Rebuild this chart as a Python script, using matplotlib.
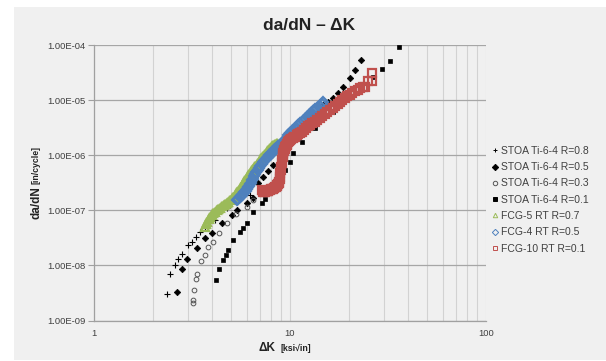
import matplotlib
matplotlib.use('Agg')
import matplotlib.pyplot as plt
from matplotlib.patches import Rectangle
from matplotlib.ticker import LogLocator, FuncFormatter, NullFormatter
import numpy as np

plt.rcParams['font.family'] = ['Liberation Sans', 'DejaVu Sans']

# STOA Ti-6-4 data
stoa08_dk = [2.37, 2.44, 2.59, 2.69, 2.80, 3.03, 3.15, 3.31, 3.47, 3.68, 4.14, 4.75, 6.25, 6.62, 9.3]
stoa08_rate = [3.0e-9, 7.0e-9, 1.02e-8, 1.3e-8, 1.62e-8, 2.36e-8, 2.71e-8, 3.34e-8, 4.12e-8, 4.95e-8,
               6.7e-8, 1.1e-7, 1.9e-7, 4.1e-7, 9.3e-7]

stoa05_dk = [2.64, 2.80, 2.99, 3.34, 3.68, 3.98, 4.48, 5.04, 5.35, 6.01, 6.50, 6.87, 7.17, 7.31, 7.75,
             8.22, 8.89, 9.43, 10.0, 10.8, 11.9, 13.1, 14.8, 15.7, 16.6, 17.6, 18.7, 20.2, 21.5, 22.9]
stoa05_rate = [3.3e-9, 8.5e-9, 1.3e-8, 2.06e-8, 3.1e-8, 3.9e-8, 5.8e-8, 8.3e-8, 1.02e-7, 1.35e-7,
               1.67e-7, 3.2e-7, 2.36e-7, 4.1e-7, 5.1e-7, 6.7e-7, 1.02e-6, 1.35e-6, 1.78e-6, 2.36e-6,
               3.6e-6, 5.2e-6, 8.3e-6, 9.5e-6, 1.1e-5, 1.35e-5, 1.78e-5, 2.5e-5, 3.6e-5, 5.4e-5]

stoa03_dk = [3.21, 3.21, 3.25, 3.30, 3.37, 3.50, 3.68, 3.83, 4.06, 4.36, 4.75, 5.30, 6.01, 6.50]
stoa03_rate = [2.05e-9, 2.36e-9, 3.6e-9, 5.6e-9, 7.0e-9, 1.22e-8, 1.55e-8, 2.14e-8, 2.7e-8, 3.9e-8,
               5.8e-8, 8.6e-8, 1.17e-7, 1.55e-7]

stoa01_dk = [4.19, 4.34, 4.53, 4.71, 4.84, 5.14, 5.56, 5.78, 6.01, 6.50, 7.17, 7.45, 7.91, 8.28, 8.71,
             9.07, 9.43, 10.0, 10.4, 11.5, 13.4, 16.6, 26.6, 29.6, 32.4, 36.1]
stoa01_rate = [5.4e-9, 8.6e-9, 1.26e-8, 1.55e-8, 1.9e-8, 2.9e-8, 4.1e-8, 4.7e-8, 5.8e-8, 9.5e-8,
               1.35e-7, 1.6e-7, 2.06e-7, 2.36e-7, 2.9e-7, 3.6e-7, 5.4e-7, 7.7e-7, 1.1e-6, 1.78e-6,
               3.2e-6, 6.2e-6, 2.7e-5, 3.7e-5, 5.2e-5, 9.3e-5]

# FCG room temperature tests (dense records)
fcg5_dk = [3.68, 3.73, 3.78, 3.84, 3.91, 3.98, 4.05, 4.14, 4.23, 4.31, 4.40, 4.49, 4.58, 4.66, 4.75,
           4.85, 4.95, 5.05, 5.14, 5.22, 5.30, 5.38, 5.45, 5.56, 5.65, 5.75, 5.83, 5.90, 6.01, 6.1,
           6.2, 6.29, 6.38, 6.47, 6.55, 6.65, 6.76, 6.88, 7.0, 7.15, 7.3, 7.45, 7.61, 7.75, 7.9,
           8.05, 8.22, 8.4, 8.55]
fcg5_rate = [5.1e-8, 5.6e-8, 6.2e-8, 6.9e-8, 7.7e-8, 8.3e-8, 8.8e-8, 9.5e-8, 1.02e-7, 1.07e-7,
             1.12e-7, 1.18e-7, 1.25e-7, 1.3e-7, 1.35e-7, 1.43e-7, 1.52e-7, 1.62e-7, 1.72e-7, 1.85e-7,
             2.0e-7, 2.15e-7, 2.3e-7, 2.46e-7, 2.7e-7, 3.0e-7, 3.25e-7, 3.5e-7, 3.9e-7, 4.2e-7,
             4.6e-7, 5.0e-7, 5.4e-7, 5.7e-7, 6.0e-7, 6.3e-7, 6.7e-7, 7.3e-7, 8.0e-7, 8.8e-7,
             9.7e-7, 1.07e-6, 1.17e-6, 1.26e-6, 1.35e-6, 1.45e-6, 1.55e-6, 1.62e-6, 1.67e-6]

fcg4_dk = [5.37, 5.45, 5.53, 5.61, 5.69, 5.77, 5.85, 5.94, 6.03, 6.1, 6.17, 6.25, 6.32, 6.4, 6.48,
           6.55, 6.63, 6.73, 6.83, 6.93, 7.03, 7.16, 7.3, 7.45, 7.61, 7.73, 7.85, 7.96, 8.07, 8.18,
           8.3, 8.42, 8.55, 8.72, 8.9, 9.07, 9.24, 9.42, 9.6, 9.8, 10.0, 10.2, 10.4, 10.6, 10.8,
           11.05, 11.3, 11.6, 11.9, 12.2, 12.5, 12.8, 13.1, 13.45, 13.8, 14.15, 14.5, 14.8]
fcg4_rate = [1.55e-7, 1.63e-7, 1.72e-7, 1.8e-7, 1.9e-7, 2.02e-7, 2.15e-7, 2.3e-7, 2.46e-7, 2.62e-7,
             2.8e-7, 3.0e-7, 3.2e-7, 3.5e-7, 3.8e-7, 4.2e-7, 4.6e-7, 5.0e-7, 5.4e-7, 5.85e-7,
             6.3e-7, 6.9e-7, 7.5e-7, 8.2e-7, 8.9e-7, 9.5e-7, 1.0e-6, 1.06e-6, 1.12e-6, 1.17e-6,
             1.23e-6, 1.29e-6, 1.35e-6, 1.45e-6, 1.55e-6, 1.66e-6, 1.78e-6, 1.93e-6, 2.1e-6, 2.35e-6,
             2.6e-6, 2.75e-6, 2.9e-6, 3.05e-6, 3.2e-6, 3.5e-6, 3.8e-6, 4.2e-6, 4.6e-6, 5.0e-6,
             5.4e-6, 5.9e-6, 6.4e-6, 6.9e-6, 7.4e-6, 7.9e-6, 8.5e-6, 9.3e-6]

fcg10_dk = [7.17, 7.24, 7.3, 7.38, 7.45, 7.52, 7.6, 7.68, 7.75, 7.88, 8.0, 8.11, 8.22, 8.31, 8.4,
            8.48, 8.55, 8.63, 8.7, 8.76, 8.82, 8.86, 8.89, 8.93, 8.97, 9.02, 9.07, 9.12, 9.18, 9.22,
            9.26, 9.3, 9.35, 9.41, 9.48, 9.55, 9.62, 9.7, 9.8, 9.9, 10.0, 10.15, 10.3, 10.45, 10.6,
            10.8, 11.0, 11.25, 11.5, 11.75, 12.0, 12.3, 12.6, 13.0, 13.4, 13.8, 14.2, 14.6, 15.0,
            15.5, 16.0, 16.5, 17.0, 17.5, 18.0, 18.5, 19.0, 19.6, 20.2, 20.8, 21.4, 22.1, 22.8,
            23.5, 24.1, 25.1, 26.1, 26.1]
fcg10_rate = [2.36e-7, 2.28e-7, 2.2e-7, 2.2e-7, 2.2e-7, 2.22e-7, 2.25e-7, 2.27e-7, 2.3e-7, 2.35e-7,
              2.4e-7, 2.45e-7, 2.5e-7, 2.57e-7, 2.65e-7, 2.72e-7, 2.8e-7, 2.9e-7, 3.0e-7, 3.15e-7,
              3.3e-7, 3.7e-7, 4.1e-7, 4.7e-7, 5.4e-7, 6.2e-7, 7.2e-7, 8.2e-7, 9.5e-7, 1.02e-6,
              1.1e-6, 1.18e-6, 1.26e-6, 1.33e-6, 1.4e-6, 1.47e-6, 1.55e-6, 1.63e-6, 1.72e-6, 1.81e-6,
              1.91e-6, 1.98e-6, 2.05e-6, 2.12e-6, 2.2e-6, 2.32e-6, 2.45e-6, 2.57e-6, 2.7e-6, 2.9e-6,
              3.1e-6, 3.35e-6, 3.6e-6, 3.85e-6, 4.1e-6, 4.4e-6, 4.7e-6, 5.1e-6, 5.6e-6, 6.1e-6,
              6.7e-6, 7.3e-6, 8.0e-6, 8.7e-6, 9.5e-6, 1.02e-5, 1.1e-5, 1.18e-5, 1.26e-5, 1.35e-5,
              1.45e-5, 1.56e-5, 1.67e-5, 1.72e-5, 1.78e-5, 2.2e-5, 2.2e-5, 3.2e-5]

bg = '#f0f0f0'
txt = '#404040'

fig = plt.figure(figsize=(6.06, 3.61), dpi=100)
fig.patch.set_facecolor('white')
fig.patches.append(Rectangle((14 / 606, 0.003), 1, 0.978, transform=fig.transFigure,
                             facecolor=bg, edgecolor='none', zorder=-10))

ax = fig.add_axes([94 / 606, 40.5 / 361, 392 / 606, 275.2 / 361])
ax.set_facecolor(bg)
ax.set_xscale('log')
ax.set_yscale('log')
ax.set_xlim(1, 100)
ax.set_ylim(1e-9, 1e-4)

ax.plot(stoa08_dk, stoa08_rate, '+', color='black', ms=4.5, mew=0.8, label='STOA Ti-6-4 R=0.8')
ax.plot(stoa05_dk, stoa05_rate, 'D', color='black', ms=3.3, mew=0.5, label='STOA Ti-6-4 R=0.5')
ax.plot(stoa03_dk, stoa03_rate, 'o', mfc='none', mec='#555555', ms=3.4, mew=0.7, label='STOA Ti-6-4 R=0.3')
ax.plot(stoa01_dk, stoa01_rate, 's', color='black', ms=3.5, mew=0.5, label='STOA Ti-6-4 R=0.1')
ax.plot(fcg5_dk, fcg5_rate, '^', mfc='none', mec='#9bbb59', ms=5.5, mew=1.6, label='FCG-5 RT R=0.7')
ax.plot(fcg4_dk, fcg4_rate, 'D', mfc='none', mec='#4f81bd', ms=5, mew=1.6, label='FCG-4 RT R=0.5')
ax.plot(fcg10_dk, fcg10_rate, 's', mfc='none', mec='#c0504d', ms=5.5, mew=1.6, label='FCG-10 RT R=0.1')

ax.xaxis.set_minor_locator(LogLocator(base=10, subs=np.arange(2, 10)))
ax.xaxis.set_minor_formatter(NullFormatter())
ax.xaxis.set_major_formatter(FuncFormatter(lambda v, p: f'{v:g}'))
ax.yaxis.set_major_locator(LogLocator(base=10, numticks=10))
ax.yaxis.set_minor_locator(LogLocator(base=10, subs=[]))
ax.yaxis.set_major_formatter(FuncFormatter(lambda v, p: f'{v:.2E}'))

ax.grid(True, which='major', axis='y', color='#a6a6a6', lw=0.9)
ax.grid(True, which='both', axis='x', color='#d2d2d2', lw=0.8)
ax.set_axisbelow(True)
for s in ['top', 'right']:
    ax.spines[s].set_visible(False)
for s in ['left', 'bottom']:
    ax.spines[s].set_color('#a0a0a0')
    ax.spines[s].set_linewidth(0.9)

ax.tick_params(axis='y', which='major', length=4, color='#a0a0a0', labelsize=6.8, labelcolor=txt, pad=2)
ax.tick_params(axis='x', which='both', length=0, labelsize=6.8, labelcolor=txt, pad=6)

fig.text(309 / 606, 1 - 25 / 361, 'da/dN – ΔK', ha='center', va='center', fontsize=12.5,
         fontweight='bold', color='#222222')
fig.text(36 / 606, 1 - 203 / 361, 'da/dN', rotation=90, ha='center', va='center', fontsize=8.5,
         fontweight='bold', color='#222222')
fig.text(36 / 606, 1 - 165 / 361, '[in/cycle]', rotation=90, ha='center', va='center', fontsize=6.3,
         fontweight='bold', color='#222222')
fig.text(267 / 606, 1 - 348 / 361, 'ΔK', ha='center', va='center', fontsize=8.5,
         fontweight='bold', color='#222222')
fig.text(296 / 606, 1 - 348 / 361, '[ksi√in]', ha='center', va='center', fontsize=6.3,
         fontweight='bold', color='#222222')

leg = ax.legend(loc='upper left', bbox_to_anchor=(492 / 606, 1 - 146 / 361),
                bbox_transform=fig.transFigure, frameon=False, fontsize=7.5,
                handlelength=0.6, handletextpad=0.3, labelspacing=0.6,
                borderpad=0, borderaxespad=0)
for t in leg.get_texts():
    t.set_color(txt)
for h in leg.legend_handles:
    h.set_markersize(3.2)
    h.set_markeredgewidth(0.7)

fig.savefig('out.png', dpi=100, facecolor=fig.get_facecolor())
